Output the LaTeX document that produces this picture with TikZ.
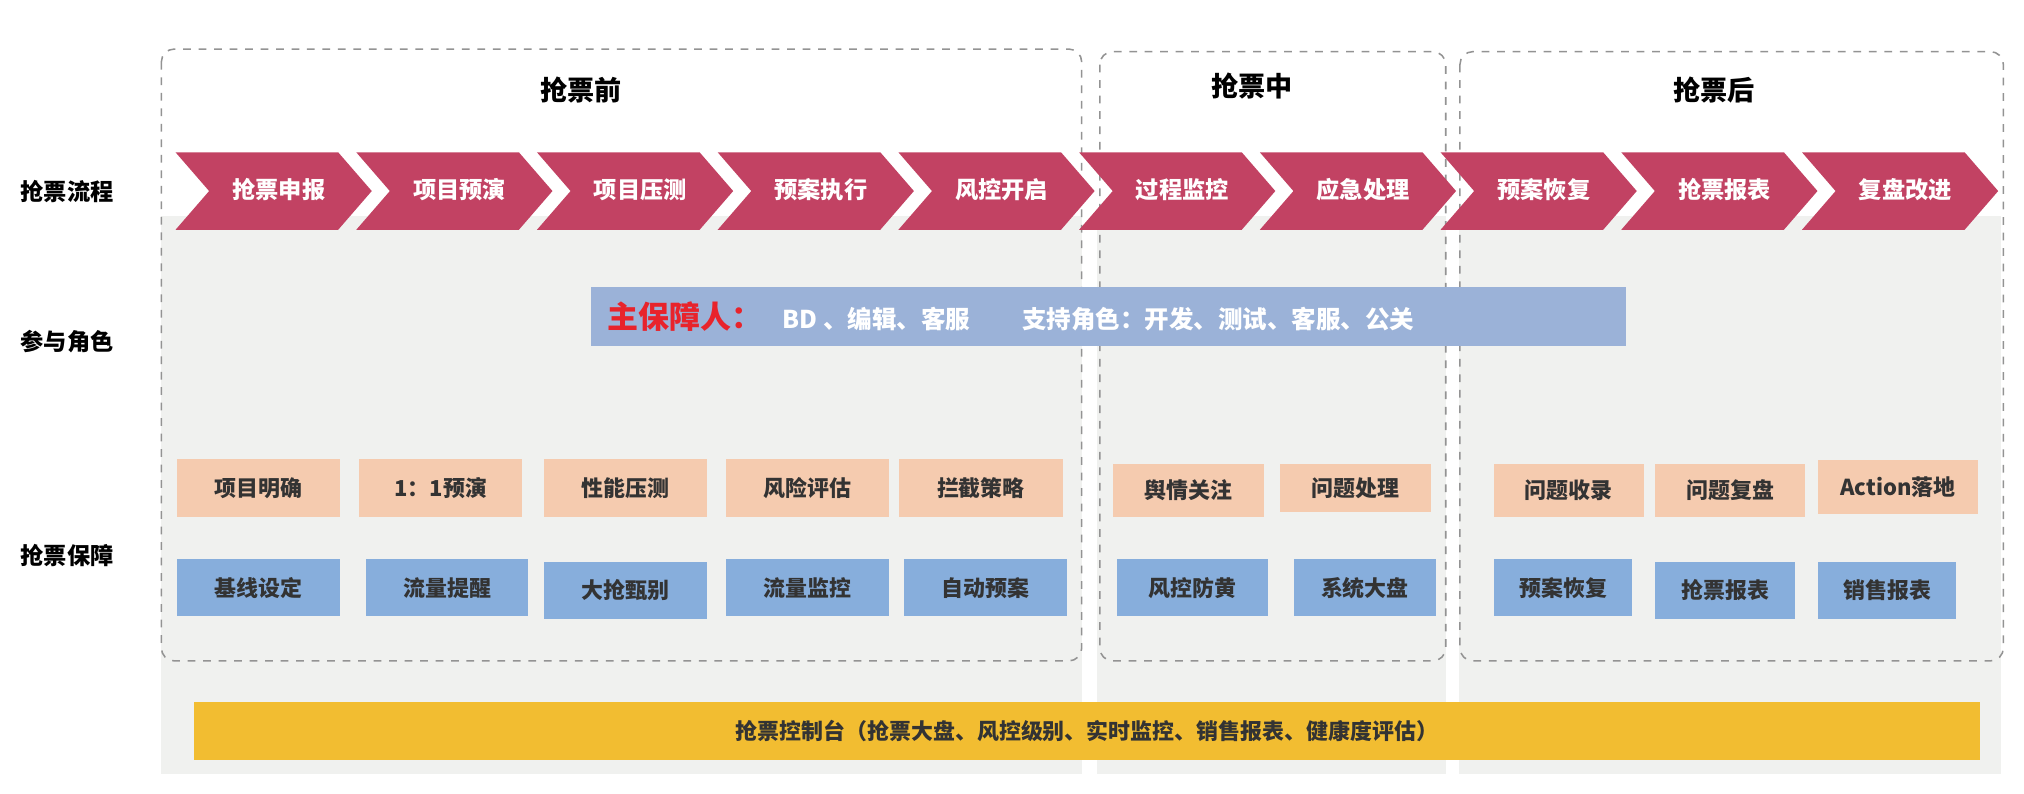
\documentclass[tikz,border=0pt]{standalone}
\usepackage{fontspec}
\setmainfont{Noto Sans CJK SC}
\definecolor{chev}{HTML}{C24263}
\definecolor{org}{HTML}{F5CBAF}
\definecolor{blu}{HTML}{87AEDC}
\definecolor{band}{HTML}{9BB2D8}
\definecolor{yel}{HTML}{F2BD31}
\definecolor{bg}{HTML}{F0F1EF}
\definecolor{txt}{HTML}{333333}
\tikzset{
  ob/.style={fill=org,text=txt,font=\fontsize{8.5}{9}\selectfont\bfseries,anchor=north west,inner sep=0pt},
  bb/.style={fill=blu,text=txt,font=\fontsize{8.5}{9}\selectfont\bfseries,anchor=north west,inner sep=0pt},
  lab/.style={font=\fontsize{9}{10}\selectfont\bfseries,text=black},
  ttl/.style={font=\fontsize{10.5}{11}\selectfont\bfseries,text=black},
  ct/.style={font=\fontsize{9}{10}\selectfont\bfseries,text=white},
  dbox/.style={draw=gray!85,dashed,rounded corners=5pt,line width=0.6pt}
}
\begin{document}
\begin{tikzpicture}[x=0.5pt,y=-0.5pt]
\useasboundingbox (0,0) rectangle (1568,615);
% gray backgrounds
\fill[bg] (125,167) rectangle (838,600);
\fill[bg] (850,167) rectangle (1120,600);
\fill[bg] (1130,167) rectangle (1550,600);
% dashed boxes
\draw[dbox] (125,38) rectangle (838,512);
\draw[dbox] (852,40) rectangle (1120,512);
\draw[dbox] (1131,40) rectangle (1552,512);
\node[ttl] (t1) at (450,70) {抢票前};
\node[ttl] (t2) at (970,67) {抢票中};
\node[ttl] (t3) at (1328,70) {抢票后};
\node[lab] (l1) at (52,148) {抢票流程};
\node[lab] (l2) at (52,265) {参与角色};
\node[lab] (l3) at (52,430) {抢票保障};
% chevrons
\foreach \i/\t in {0/抢票申报,1/项目预演,2/项目压测,3/预案执行,4/风控开启,5/过程监控,6/应急处理,7/预案恢复,8/抢票报表,9/复盘改进}{
  \pgfmathsetmacro{\xs}{136+140*\i}
  \fill[chev] (\xs,118) -- (\xs+126,118) -- (\xs+152,148) -- (\xs+126,178) -- (\xs,178) -- (\xs+26,148) -- cycle;
  \node[ct] (c\i) at (\xs+80,147) {\t};
}
% band
\node[fill=band,minimum width=401pt,minimum height=23pt,inner sep=0pt] (band) at (859,245) {};
\node[anchor=west,inner sep=0pt] (bandtxt) at (470,245) {{\fontsize{12}{13}\selectfont\bfseries\color[HTML]{E8232B}主保障人：}\hspace{8pt}{\fontsize{9.5}{10}\selectfont\bfseries\color{white}BD 、编辑、客服\hspace{20pt}支持角色：开发、测试、客服、公关}};
% orange row
\foreach \n/\x/\y/\w/\h/\t in {o1/137/355/126/45/项目明确,o2/278/355/126/45/1：1预演,o3/421/355/126/45/性能压测,o4/562/355/126/45/风险评估,o5/696/355/127/45/拦截策略,o6/862/359/117/41/舆情关注,o7/991/359/117/37/问题处理,o8/1157/359/116/41/问题收录,o9/1282/359/116/41/问题复盘,o10/1408/356/124/42/Action落地}{
  \node[ob,minimum width=\w/2 pt,minimum height=\h/2 pt] (\n) at (\x,\y) {\t};
}
\foreach \n/\x/\y/\w/\h/\t in {b1/137/433/126/44/基线设定,b2/283/433/126/44/流量提醒,b3/421/435/126/44/大抢甄别,b4/562/433/126/44/流量监控,b5/700/433/126/44/自动预案,b6/865/433/117/44/风控防黄,b7/1002/433/110/44/系统大盘,b8/1157/433/107/44/预案恢复,b9/1282/435/108/44/抢票报表,b10/1408/435/107/44/销售报表}{
  \node[bb,minimum width=\w/2 pt,minimum height=\h/2 pt] (\n) at (\x,\y) {\t};
}
% yellow bar
\node[fill=yel,text=txt,font=\fontsize{8.5}{9}\selectfont\bfseries,minimum width=692pt,minimum height=22.5pt,inner sep=0pt] (ybar) at (842,566.5) {抢票控制台（抢票大盘、风控级别、实时监控、销售报表、健康度评估）};
\end{tikzpicture}
\end{document}
